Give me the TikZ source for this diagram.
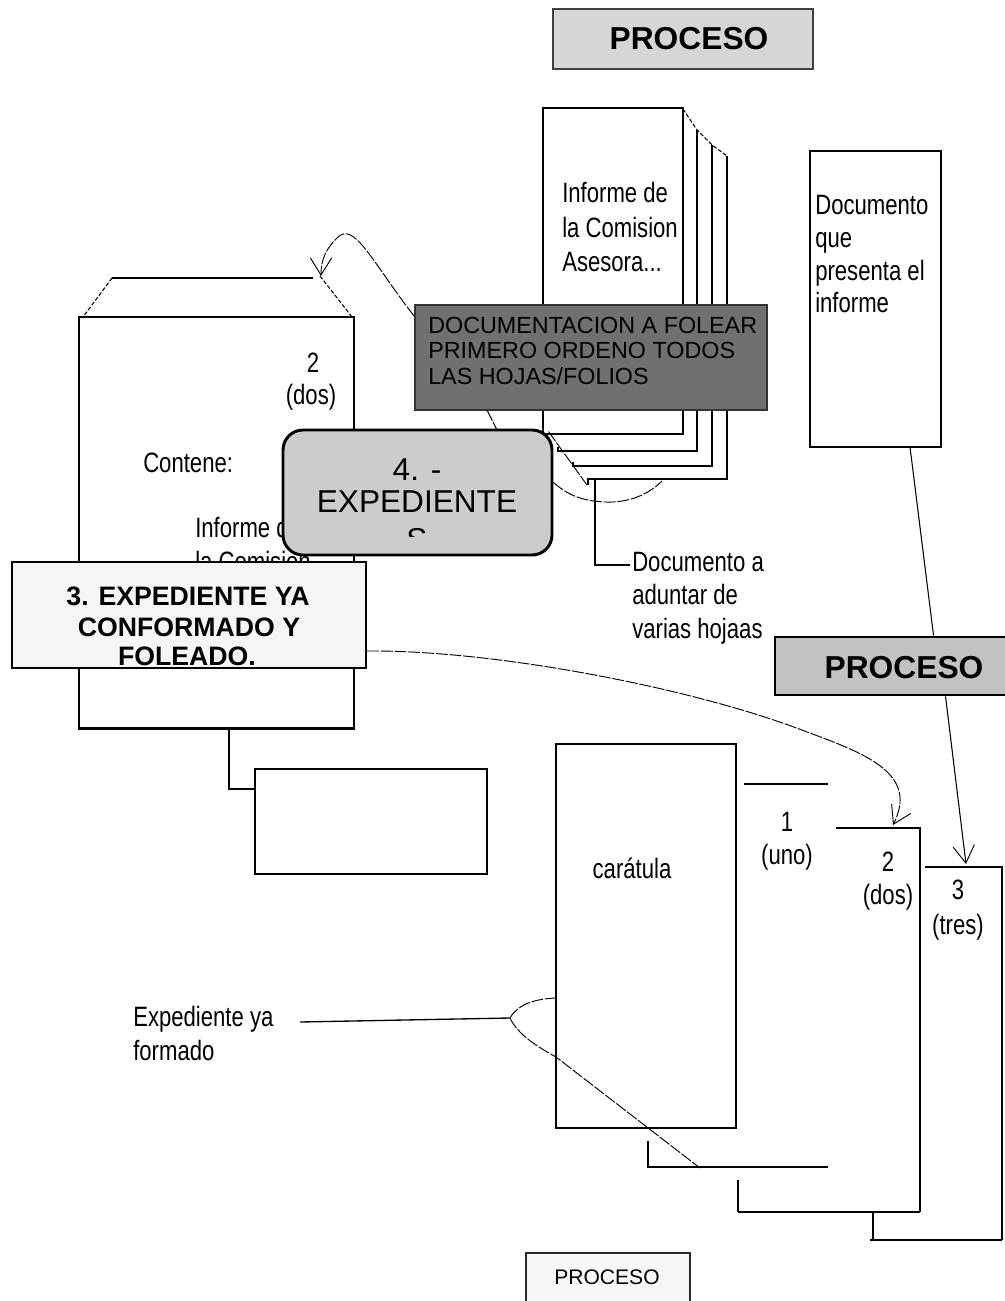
\documentclass[tikz,border=0pt]{standalone}
\usepackage{fontspec}
\setmainfont{Liberation Sans}
\newfontfamily\pix[FakeStretch=0.79]{Liberation Sans}
\usetikzlibrary{fit,arrows.meta,calc}
\tikzset{
  ln/.style={line width=0.8pt},
  sheet/.style={draw=black, line width=0.8pt, fill=white, inner sep=0pt},
  pixtext/.style={font=\pix\fontsize{21pt}{25pt}\selectfont, inner sep=0pt, align=left},
  pixc/.style={font=\pix\fontsize{21pt}{25pt}\selectfont, inner sep=0pt},
  conn/.style={line width=0.7pt, dash pattern=on 9pt off 1.3pt},
  barb/.style={-{Straight Barb[length=13pt,width=16pt,line width=0.7pt]}},
  procfont/.style={font=\bfseries\fontsize{23.8pt}{26pt}\selectfont, inner sep=0pt},
}
\begin{document}
\begin{tikzpicture}[x=0.75pt,y=-0.75pt]
\useasboundingbox (0,0) rectangle (1005,1301);
\fill[white] (0,0) rectangle (1005,1301);

% ---------- top PROCESO
\node[draw=black!75, line width=1pt, fill=black!16, inner sep=0pt, fit={(553,9)(813,69)}] (proc1) {};
\node[procfont, anchor=base] (proc1t) at (689,50) {PROCESO};

% ---------- stack of pages
\draw[ln, dash pattern=on 3pt off 1.5pt] (683,109) -- (697,130) -- (712,145) -- (727,156);
\draw[ln] (727,156) -- (727,479) -- (588,479) -- (588,485);
\draw[ln] (712,145) -- (712,466) -- (573,466) -- (573,462);
\draw[ln] (697,130) -- (697,451) -- (558,451) -- (558,447);
\node[sheet, fit={(543,108)(683,434)}] (sheet0) {};
\node[pixtext, anchor=base west, font=\pix\fontsize{21pt}{26pt}\selectfont] (inftxt) at (562,272) {Informe de\\la Comision\\Asesora...};

% ---------- Documento que presenta el informe
\node[sheet, fit={(810,151)(941,447)}] (doc) {};
\node[pixtext, anchor=base west, font=\pix\fontsize{21pt}{24.5pt}\selectfont] (doctxt) at (815,313) {Documento\\que\\presenta el\\informe};

% ---------- left box (2 dos)
\draw[line width=1.2pt] (112,278) -- (313,278);
\draw[ln, dash pattern=on 3pt off 1.5pt] (112,278) -- (83,317);
\draw[ln, dash pattern=on 3pt off 1.5pt] (320,276) -- (352,317);
\node[sheet, fit={(79,317)(354,728)}] (leftbox) {};
\draw[line width=2.6pt] (leftbox.south west) -- (leftbox.south east);
\node[pixc] (ltwo) at (313,363) {2};
\node[pixc] (ldos) at (311,397) {(dos)};
\node[pixtext, anchor=base west] (lcont) at (143,472) {Contene:};
\node[pixtext, anchor=base west] (linf) at (195,571) {Informe de\\la Comision};

% small box under left box
\node[sheet, fit={(255,769)(487,874)}] (smallbox) {};
\coordinate (lbq) at (229,728);
\draw[line width=1.5pt] (lbq) |- ($(smallbox.north west)+(0,21)$);

% ---------- dark box
\node[fit={(415,305)(767,410)}, fill=black!56, draw=black!80, line width=1.2pt, inner sep=0pt] (dark) {};
\node[anchor=base west, align=left, inner sep=0pt, font=\fontsize{17.5pt}{19pt}\selectfont] (darkt) at (428,384) {DOCUMENTACION A FOLEAR\\PRIMERO ORDENO TODOS\\LAS HOJAS/FOLIOS};

% arrow from dark box to fold of left box
\coordinate (foldtip) at (321,276);
\draw[conn, barb] ($(dark.north west)+(0,12)$) .. controls (372,262) and (354,220) .. (337,238) .. controls (327,248) and (321,258) .. (foldtip);

% ---------- 4.- EXPEDIENTES box
\coordinate (dkb) at (487,410);
\coordinate (e4top) at (497,430);
\draw[conn] (dkb) -- (e4top);
\node[fit={(283,430)(552,555)}, rounded corners=15pt, fill=black!20, draw=black, line width=2.2pt, inner sep=0pt] (exp4) {};
\node[anchor=base, inner sep=0pt, font=\fontsize{23.7pt}{25pt}\selectfont] (e4a) at (417,480) {4. -};
\node[anchor=base, inner sep=0pt, font=\fontsize{23.7pt}{25pt}\selectfont] (e4b) at (417,512) {EXPEDIENTE};
\begin{scope}
  \clip (290,520) rectangle (545,536);
  \node[anchor=base, inner sep=0pt, font=\fontsize{23.7pt}{25pt}\selectfont] (e4c) at (417,550) {S};
\end{scope}

% connectors from 4.- box to stack bottom
\coordinate (stk) at (662,481);
\coordinate (stk2) at (587,485);
\draw[conn] ($(exp4.north east)+(-5,3)$) -- (stk2);
\draw[conn] ($(exp4.east)+(0,-10)$) .. controls (570,497) and (585,501) .. (605,502) .. controls (628,503) and (648,495) .. (stk);

% Documento a aduntar de varias hojaas
\coordinate (stb) at (595,479);
\coordinate (dadj) at (630,565);
\draw[ln] (stb) |- (dadj);
\node[pixtext, anchor=base west, font=\pix\fontsize{21pt}{25pt}\selectfont] (dadjt) at (632,638) {Documento a\\aduntar de\\varias hojaas};

% ---------- 3. EXPEDIENTE box
\node[fit={(12,562)(366,668)}, fill=black!4, draw=black, line width=1.6pt, inner sep=0pt] (exp3) {};
\node[anchor=base, inner sep=0pt, font=\bfseries\fontsize{20pt}{22pt}\selectfont] (e3a) at (188,605) {3. EXPEDIENTE YA};
\node[anchor=base, inner sep=0pt, font=\bfseries\fontsize{20pt}{22pt}\selectfont] (e3b) at (189,636) {CONFORMADO Y};
\node[anchor=base, inner sep=0pt, font=\bfseries\fontsize{20pt}{22pt}\selectfont] (e3c) at (187,665) {FOLEADO.};

% ---------- carátula group
% page 3
\draw[ln] (925,867) -- (1002,867) -- (1002,1240);
\draw[line width=1.3pt] (1002,1240) -- (870,1240);
\draw[ln] (873,1213) -- (873,1240);
% page 2
\draw[ln] (836,828) -- (920,828) -- (920,1212);
\draw[line width=1.3pt] (920,1212) -- (738,1212);
\draw[ln] (738,1180) -- (738,1212);
% page 1
\draw[ln] (744,784) -- (828,784);
\draw[ln] (648,1141) -- (648,1167) -- (828,1167);
% caratula
\node[sheet, fit={(556,744)(736,1128)}] (caratula) {};
\node[pixc, anchor=base] (cartxt) at (632,878) {carátula};
\node[pixc] (p1n) at (787,822) {1};
\node[pixc] (p1t) at (787,857) {(uno)};
\node[pixc] (p2n) at (888,862) {2};
\node[pixc] (p2t) at (888,897) {(dos)};
\node[pixc] (p3n) at (958,890) {3};
\node[pixc] (p3t) at (958,927) {(tres)};

% ---------- right PROCESO and its line
\coordinate (docb) at (910,447);
\coordinate (tip3) at (966,864);
\node[fit={(775,637)(1012,695)}, fill=black!24, draw=black, line width=2.2pt, inner sep=0pt] (proc2) {};
\draw[ln] (docb) -- ($(proc2.north west)+(160,0)$);
\draw[ln, barb] ($(proc2.south west)+(172,0)$) -- (tip3);
\node[procfont, anchor=base] (proc2t) at (904,678) {PROCESO};

% curve from 3. box to page 2
\coordinate (tip2) at (893,825);
\draw[conn, barb] (exp3.east |- 0,651) .. controls (500,650) and (700,690) .. (807,732) .. controls (870,755) and (918,775) .. (tip2);

% ---------- Expediente ya formado
\node[pixtext, anchor=base west] (exptxt) at (133,1060) {Expediente ya\\formado};
\coordinate (exs) at (300,1022);
\coordinate (fork) at (510,1018);
\coordinate (p1b) at (700,1168);
\draw[line width=1pt] (exs) -- (fork);
\draw[conn] (fork) .. controls (518,1004) and (535,999) .. (caratula.west |- 0,998);
\draw[conn] (fork) .. controls (518,1035) and (538,1047) .. (556,1057) -- (p1b);

% ---------- bottom PROCESO
\node[fit={(526,1253)(690,1310)}, fill=black!3, draw=black!85, line width=1pt, inner sep=0pt] (proc3) {};
\node[anchor=base, inner sep=0pt, font=\fontsize{15.8pt}{17pt}\selectfont] (proc3t) at (607,1284) {PROCESO};
\end{tikzpicture}
\end{document}
